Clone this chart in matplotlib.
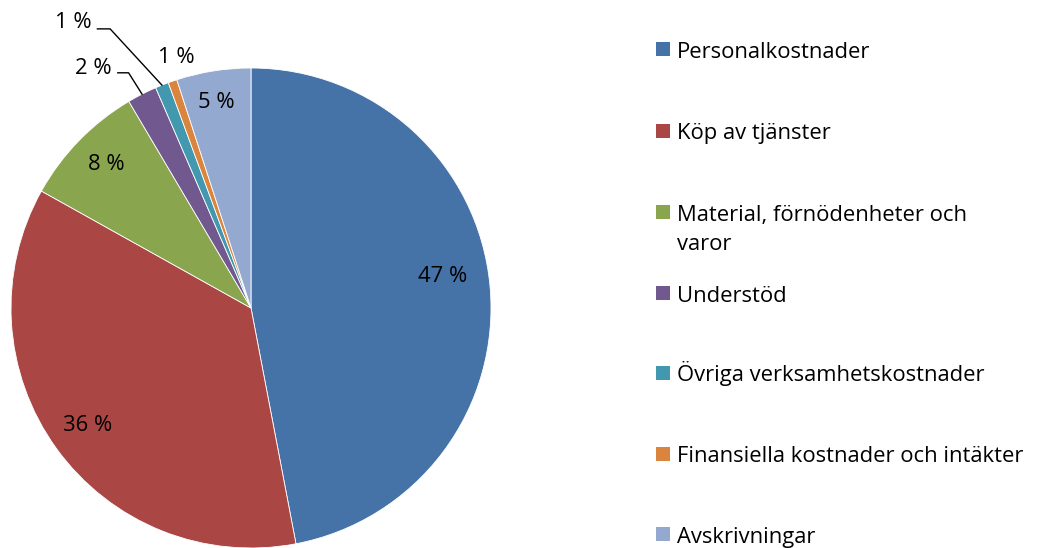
import matplotlib
matplotlib.use("Agg")
import matplotlib.pyplot as plt
from matplotlib.patches import Rectangle
import numpy as np

categories = ["Personalkostnader", "Köp av tjänster", "Material, förnödenheter och\nvaror",
              "Understöd", "Övriga verksamhetskostnader", "Finansiella kostnader och intäkter",
              "Avskrivningar"]
values = [47.0, 36.1, 8.4, 2.0, 0.9, 0.6, 5.0]
labels = ["47 %", "36 %", "8 %", "2 %", "1 %", "1 %", "5 %"]
colors = ["#4572A7", "#AA4643", "#89A54E", "#71588F", "#4198AF", "#DB843D", "#93A9CF"]

plt.rcParams['font.family'] = ['Open Sans', 'DejaVu Sans']
FS = 15.8

W, H = 1053, 548
fig = plt.figure(figsize=(W / 100, H / 100), dpi=100)
cx, cy, R = 251, 308, 240
ax = fig.add_axes([(cx - R) / W, (H - cy - R) / H, 2 * R / W, 2 * R / H])

wedges, _ = ax.pie(values, colors=colors, startangle=90, counterclock=False, radius=1,
                   wedgeprops=dict(edgecolor='white', linewidth=0.6))
ax.set_xlim(-1, 1)
ax.set_ylim(-1, 1)
ax.set_aspect('equal')
ax.axis('off')

def mid_angle(w, offset_deg=0.0):
    return np.deg2rad((w.theta1 + w.theta2) / 2 + offset_deg)

# label placement: index -> (radius, angular offset in degrees)
placement = {0: (0.81, 4.0), 1: (0.84, 0.0), 2: (0.85, -0.5), 6: (0.87, 0.5), 5: (1.09, -2.6)}
for i, (r, off) in placement.items():
    a = mid_angle(wedges[i], off)
    ax.text(r * np.cos(a), r * np.sin(a), labels[i], ha='center', va='center', fontsize=FS,
            clip_on=False)

# outer labels with leader lines: (index, text pos, elbow start, elbow end)
leaders = [(3, (-0.658, 1.0), (-0.555, 0.98), (-0.51, 0.98)),
           (4, (-0.742, 1.19), (-0.64, 1.163), (-0.587, 1.163))]
for i, tp, p0, p1 in leaders:
    a = mid_angle(wedges[i])
    ex, ey = np.cos(a), np.sin(a)
    ax.plot([p0[0], p1[0], ex], [p0[1], p1[1], ey], color='black', lw=1.0, clip_on=False)
    ax.text(tp[0], tp[1], labels[i], ha='center', va='center', fontsize=FS, clip_on=False)

# legend (manual)
row_y = [49, 131, 212, 293, 373, 454, 534]
sq = 14
line_step = 29
for c, col, y in zip(categories, colors, row_y):
    fig.patches.append(Rectangle((656 / W, (H - y - sq / 2) / H), sq / W, sq / H,
                                 transform=fig.transFigure, facecolor=col, edgecolor='none'))
    for k, line in enumerate(c.split('\n')):
        fig.text(677 / W, (H - y - 8.5 - k * line_step) / H, line, ha='left', va='baseline',
                 fontsize=FS)

fig.savefig("out.png", dpi=100)
